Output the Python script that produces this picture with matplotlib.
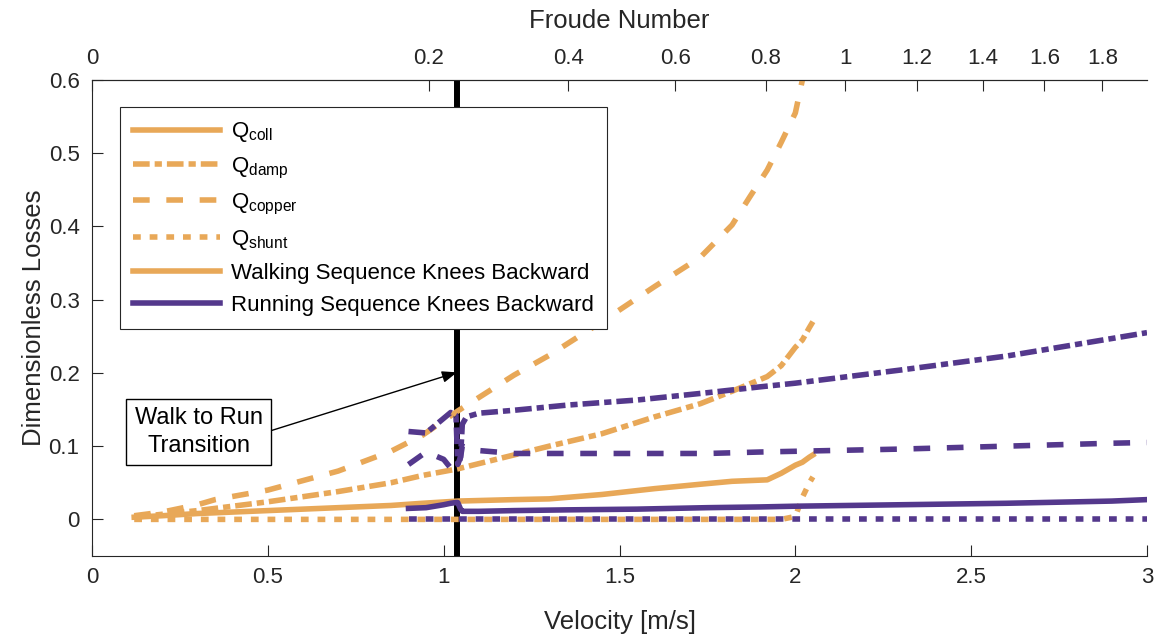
import numpy as np
import matplotlib
matplotlib.use("Agg")
import matplotlib.pyplot as plt
from matplotlib.lines import Line2D

plt.rcParams['font.family'] = ['Liberation Sans', 'DejaVu Sans']
plt.rcParams['mathtext.fontset'] = 'custom'
plt.rcParams['mathtext.rm'] = 'Liberation Sans'
plt.rcParams['mathtext.it'] = 'Liberation Sans:italic'

# ---------------- data ----------------
walk_v = [0.12, 0.2, 0.3, 0.35, 0.5, 0.7, 0.85, 0.94, 1.04, 1.2, 1.3, 1.45, 1.6,
          1.73, 1.82, 1.87, 1.92, 1.96, 2.0, 2.02, 2.04, 2.05]
walk_coll = [0.003, 0.005, 0.008, 0.009, 0.012, 0.016, 0.019, 0.022, 0.025, 0.027, 0.028,
             0.034, 0.042, 0.048, 0.052, 0.053, 0.054, 0.063, 0.074, 0.078, 0.085, 0.088]
walk_damp = [0.003, 0.007, 0.012, 0.015, 0.024, 0.038, 0.05, 0.06, 0.069, 0.088, 0.1,
             0.117, 0.14, 0.158, 0.175, 0.185, 0.195, 0.21, 0.235, 0.245, 0.262, 0.27]
walk_copper = [0.005, 0.01, 0.02, 0.027, 0.04, 0.066, 0.093, 0.115, 0.148, 0.197, 0.224,
               0.27, 0.318, 0.358, 0.402, 0.44, 0.477, 0.515, 0.555, 0.6, 0.64, 0.66]
walk_shunt = [0.0, 0.0, 0.0, 0.0, 0.0, 0.0, 0.0, 0.0, 0.0, 0.0, 0.0,
              0.0, 0.0, 0.0, 0.0, 0.0, 0.0, 0.0, 0.004, 0.03, 0.05, 0.058]

run_v = [0.9, 0.95, 1.0, 1.02, 1.035, 1.04, 1.048, 1.053, 1.065, 1.1, 1.2, 1.35, 1.55,
         1.75, 1.9, 2.0, 2.3, 2.6, 2.9, 3.0]
run_coll = [0.015, 0.016, 0.02, 0.022, 0.023, 0.023, 0.014, 0.011, 0.011, 0.011, 0.012,
            0.013, 0.014, 0.016, 0.017, 0.018, 0.02, 0.022, 0.025, 0.027]
run_damp = [0.12, 0.118, 0.138, 0.146, 0.142, 0.075, 0.085, 0.13, 0.14, 0.145, 0.149,
            0.156, 0.163, 0.173, 0.181, 0.186, 0.204, 0.223, 0.247, 0.255]
run_copper = [0.075, 0.092, 0.082, 0.07, 0.07, 0.07, 0.085, 0.1, 0.098, 0.094, 0.09,
              0.09, 0.09, 0.09, 0.092, 0.093, 0.096, 0.1, 0.104, 0.105]
run_shunt = [0.001] * 20

transition_v = 1.038
froude_ticks = [0, 0.2, 0.4, 0.6, 0.8, 1, 1.2, 1.4, 1.6, 1.8]
froude_tick_labels = ['0', '0.2', '0.4', '0.6', '0.8', '1', '1.2', '1.4', '1.6', '1.8']
gL = 4.585  # g * leg length

legend_labels = [r'Q$_{\mathrm{coll}}$', r'Q$_{\mathrm{damp}}$', r'Q$_{\mathrm{copper}}$',
                 r'Q$_{\mathrm{shunt}}$', 'Walking Sequence Knees Backward',
                 'Running Sequence Knees Backward']

# ---------------- style ----------------
ORANGE = '#E8A858'
PURPLE = '#54388C'
LW = 4.0
STYLES = {
    'coll': '-',
    'damp': (0, (3.0, 0.9, 1.3, 0.9)),
    'copper': (0, (3.0, 3.0)),
    'shunt': (0, (1.4, 1.6)),
}
TXT = '#262626'

fig = plt.figure(figsize=(11.63, 6.39), dpi=100)
ax = fig.add_axes([92 / 1163, 1 - 556 / 639, (1147 - 92) / 1163, (556 - 80) / 639])

ax.axvline(transition_v, color='black', lw=4.3, zorder=1)

for vals, key in zip([walk_coll, walk_damp, walk_copper, walk_shunt],
                     ['coll', 'damp', 'copper', 'shunt']):
    ax.plot(walk_v, vals, color=ORANGE, lw=LW, ls=STYLES[key], zorder=2)
for vals, key in zip([run_coll, run_damp, run_copper, run_shunt],
                     ['coll', 'damp', 'copper', 'shunt']):
    ax.plot(run_v, vals, color=PURPLE, lw=LW, ls=STYLES[key], zorder=2)

ax.set_xlim(0, 3)
ax.set_ylim(-0.05, 0.6)
ax.set_xticks([0, 0.5, 1, 1.5, 2, 2.5, 3])
ax.set_xticklabels(['0', '0.5', '1', '1.5', '2', '2.5', '3'])
ax.set_yticks([0, 0.1, 0.2, 0.3, 0.4, 0.5, 0.6])
ax.set_yticklabels(['0', '0.1', '0.2', '0.3', '0.4', '0.5', '0.6'])
ax.tick_params(axis='both', direction='in', length=7.6, width=0.8, labelsize=16,
               colors=TXT, labelcolor=TXT)
ax.tick_params(axis='x', pad=8)
ax.tick_params(axis='y', pad=9)
ax.spines['right'].set_visible(False)
for s in ['left', 'bottom', 'top']:
    ax.spines[s].set_color(TXT)
    ax.spines[s].set_linewidth(0.8)

ax.set_xlabel('Velocity [m/s]', fontsize=18.5, color=TXT, labelpad=16)
ax.set_ylabel('Dimensionless Losses', fontsize=18.5, color=TXT, labelpad=2)


def fwd(v):
    v = np.asarray(v, dtype=float)
    return v ** 2 / gL


def inv(f):
    f = np.asarray(f, dtype=float)
    return np.sqrt(np.clip(f, 0, None) * gL)


sec = ax.secondary_xaxis('top', functions=(fwd, inv))
sec.set_xticks(froude_ticks)
sec.set_xticklabels(froude_tick_labels)
sec.tick_params(axis='x', direction='in', length=7.6, width=0.8, labelsize=16,
                colors=TXT, labelcolor=TXT, pad=8)
sec.spines['top'].set_color(TXT)
sec.spines['top'].set_linewidth(0.8)
sec.set_xlabel('Froude Number', fontsize=18.5, color=TXT, labelpad=14)

# annotation
ax.annotate('', xy=(transition_v, 0.2008), xytext=(0.512, 0.1216),
            arrowprops=dict(arrowstyle='-|>,head_length=0.9,head_width=0.35',
                            color='black', lw=1.0, shrinkA=0, shrinkB=0),
            zorder=4)
ax.text(0.303, 0.1195, 'Walk to Run\nTransition', fontsize=17, ha='center', va='center',
        linespacing=1.35, color='black', zorder=5,
        bbox=dict(boxstyle='square,pad=0.35', fc='white', ec='black', lw=1.0))

handles = [Line2D([], [], color=ORANGE, lw=LW, ls=STYLES['coll']),
           Line2D([], [], color=ORANGE, lw=LW, ls=STYLES['damp']),
           Line2D([], [], color=ORANGE, lw=LW, ls=STYLES['copper']),
           Line2D([], [], color=ORANGE, lw=LW, ls=STYLES['shunt']),
           Line2D([], [], color=ORANGE, lw=LW, ls='-'),
           Line2D([], [], color=PURPLE, lw=LW, ls='-')]
leg = ax.legend(handles, legend_labels, loc='upper left',
                bbox_to_anchor=((120 - 92) / 1055, (556 - 107) / 476),
                borderaxespad=0, fontsize=16, handlelength=3.9, handletextpad=0.5,
                labelspacing=0.5, fancybox=False, framealpha=1, edgecolor=TXT,
                borderpad=0.6)
leg.get_frame().set_linewidth(0.8)
leg.set_zorder(6)

fig.savefig('out.png', dpi=100)
